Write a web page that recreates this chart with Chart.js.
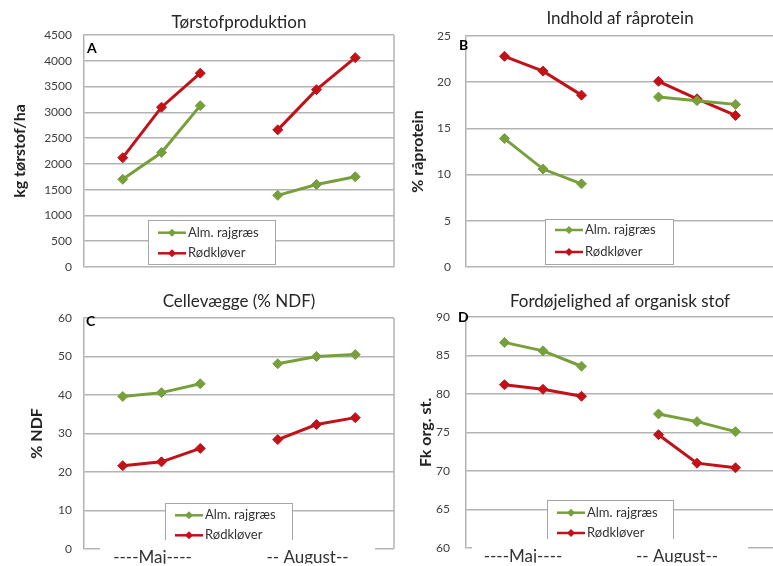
<!DOCTYPE html>
<html>
<head>
<meta charset="utf-8">
<title>Rajgræs og rødkløver</title>
<style>
  html, body { margin: 0; padding: 0; background: #fff; overflow: hidden; }
  body { width: 773px; height: 566px; position: relative; }
  canvas { position: absolute; }
</style>
</head>
<body>
  <canvas id="chartA" width="400" height="290" style="left:0;top:0"></canvas>
  <canvas id="chartB" width="380" height="290" style="left:400px;top:0"></canvas>
  <canvas id="chartC" width="400" height="278" style="left:0;top:290px"></canvas>
  <canvas id="chartD" width="380" height="281" style="left:400px;top:290px"></canvas>

<script src="https://cdn.jsdelivr.net/npm/chart.js"></script>
<script>
  // x axis: 9 slots -> empty, 3 cuts in May, empty, 3 cuts in August, empty
  var slots = ['', '', '----Maj----', '', '', '', '-- August--', '', ''];

  var tsRajgraes  = [null, 1700, 2220, 3130, null, 1390, 1600, 1750, null];
  var tsRodklover = [null, 2120, 3100, 3760, null, 2660, 3440, 4060, null];

  var rpRajgraes  = [null, 13.9, 10.6, 9.0, null, 18.4, 18.0, 17.6, null];
  var rpRodklover = [null, 22.8, 21.2, 18.6, null, 20.1, 18.2, 16.4, null];

  var ndfRajgraes  = [null, 39.6, 40.6, 42.9, null, 48.1, 50.0, 50.5, null];
  var ndfRodklover = [null, 21.6, 22.6, 26.1, null, 28.4, 32.3, 34.1, null];

  var fkRajgraes  = [null, 86.7, 85.6, 83.6, null, 77.4, 76.4, 75.1, null];
  var fkRodklover = [null, 81.2, 80.6, 79.7, null, 74.7, 71.0, 70.4, null];

  var green = 'rgb(119, 160, 60)';
  var red = 'rgb(192, 18, 24)';
  var gridColor = '#b3b3b3';
  var fontFamily = 'Lato, "Open Sans", sans-serif';

  Chart.defaults.font.family = fontFamily;

  // plot border on the right, legend box inside the plot, panel letter,
  // and the white label box that hides part of the bottom axis
  var panelDeco = {
    id: 'panelDeco',
    beforeDatasetsDraw: function (chart) {
      var a = chart.chartArea, ctx = chart.ctx;
      ctx.save();
      ctx.strokeStyle = gridColor;
      ctx.lineWidth = 1.5;
      ctx.beginPath();
      ctx.moveTo(a.right, a.top);
      ctx.lineTo(a.right, a.bottom);
      ctx.stroke();
      ctx.restore();
    },
    afterDatasetsDraw: function (chart, args, opts) {
      var a = chart.chartArea, ctx = chart.ctx;
      var L = opts.legend;
      var bx = a.left + L.x, by = a.top + L.y;
      ctx.save();
      ctx.fillStyle = '#fff';
      ctx.fillRect(bx, by, L.w, L.h);
      ctx.strokeStyle = '#a6a6a6';
      ctx.lineWidth = 1;
      ctx.strokeRect(bx + 0.5, by + 0.5, L.w, L.h);

      ctx.font = '13px ' + fontFamily;
      ctx.textBaseline = 'middle';
      chart.data.datasets.forEach(function (ds, i) {
        var y = by + L.rows[i];
        ctx.strokeStyle = ds.borderColor;
        ctx.lineWidth = 2.5;
        ctx.beginPath();
        ctx.moveTo(bx + 10, y);
        ctx.lineTo(bx + 38, y);
        ctx.stroke();
        ctx.fillStyle = ds.borderColor;
        ctx.beginPath();
        ctx.moveTo(bx + 24, y - 4);
        ctx.lineTo(bx + 28, y);
        ctx.lineTo(bx + 24, y + 4);
        ctx.lineTo(bx + 20, y);
        ctx.closePath();
        ctx.fill();
        ctx.fillStyle = '#333';
        ctx.fillText(ds.label, bx + 40, y);
      });

      if (opts.mask) {
        ctx.fillStyle = '#fff';
        ctx.fillRect(a.left + opts.mask.x, a.top + opts.mask.y, opts.mask.w, chart.height);
      }

      ctx.font = 'bold 14px ' + fontFamily;
      ctx.fillStyle = '#000';
      ctx.textBaseline = 'alphabetic';
      ctx.fillText(opts.letter.text, a.left + opts.letter.x, a.top + opts.letter.y);
      ctx.restore();
    }
  };

  function makeChart(id, cfg) {
    return new Chart(document.getElementById(id), {
      type: 'line',
      data: {
        labels: slots,
        datasets: [{
          label: 'Alm. rajgræs',
          data: cfg.green,
          borderColor: green,
          backgroundColor: green
        }, {
          label: 'Rødkløver',
          data: cfg.red,
          borderColor: red,
          backgroundColor: red
        }]
      },
      options: {
        responsive: false,
        animation: false,
        layout: { padding: cfg.padding },
        elements: {
          line: { borderWidth: 3, tension: 0 },
          point: { pointStyle: 'rectRot', radius: 5, hoverRadius: 5 }
        },
        spanGaps: false,
        scales: {
          x: {
            display: cfg.showX,
            grid: { display: false, drawTicks: false },
            border: { display: false },
            ticks: {
              autoSkip: false,
              maxRotation: 0,
              padding: -1,
              labelOffset: cfg.labelOffset,
              color: '#333',
              font: { size: 17 },
              z: 1
            },
            afterFit: function (s) { s.height = cfg.xHeight; }
          },
          y: {
            min: cfg.min,
            max: cfg.max,
            grid: { color: gridColor, lineWidth: 1.5, drawTicks: false },
            border: { color: gridColor, width: 1.5 },
            ticks: {
              stepSize: cfg.step,
              padding: cfg.tickPad,
              color: '#404040',
              font: { size: 12 },
              callback: function (v) { return String(v); }
            },
            title: {
              display: true,
              text: cfg.yTitle,
              color: '#222',
              font: { size: 16, weight: 'bold' },
              padding: { top: cfg.yTitlePad, bottom: 0 }
            },
            afterFit: function (s) { s.width = cfg.yWidth; }
          }
        },
        plugins: {
          legend: { display: false },
          tooltip: { enabled: false },
          title: {
            display: true,
            text: cfg.title,
            fullSize: false,
            color: '#262626',
            font: { size: 17, weight: 'normal' },
            padding: cfg.titlePad
          },
          panelDeco: {
            legend: cfg.legendBox,
            mask: cfg.mask,
            letter: cfg.letter
          }
        }
      },
      plugins: [panelDeco]
    });
  }

  makeChart('chartA', {
    green: tsRajgraes, red: tsRodklover,
    title: 'Tørstofproduktion', yTitle: 'kg tørstof/ha',
    min: 0, max: 4500, step: 500,
    showX: false, labelOffset: 0, xHeight: 17,
    padding: { left: 0, right: 4, top: 0, bottom: 6 },
    titlePad: { top: 12, bottom: 2.6 },
    yWidth: 84, tickPad: 12, yTitlePad: 10,
    legendBox: { x: 64, y: 185, w: 127, h: 44, rows: [12.7, 33.3] },
    mask: null,
    letter: { text: 'A', x: 3, y: 18 }
  });

  makeChart('chartB', {
    green: rpRajgraes, red: rpRodklover,
    title: 'Indhold af råprotein', yTitle: '% råprotein',
    min: 0, max: 25, step: 5,
    showX: false, labelOffset: 0, xHeight: 17,
    padding: { left: 0, right: 4, top: 0, bottom: 6 },
    titlePad: { top: 8, bottom: 7.6 },
    yWidth: 66, tickPad: 15, yTitlePad: 8,
    legendBox: { x: 79, y: 183, w: 128, h: 45, rows: [11, 33] },
    mask: null,
    letter: { text: 'B', x: -7, y: 14 }
  });

  makeChart('chartC', {
    green: ndfRajgraes, red: ndfRodklover,
    title: 'Cellevægge (% NDF)', yTitle: '% NDF',
    min: 0, max: 60, step: 10,
    showX: true, labelOffset: -9, xHeight: 15,
    padding: { left: 0, right: 4, top: 0, bottom: 0 },
    titlePad: { top: 1, bottom: 6.6 },
    yWidth: 84, tickPad: 12, yTitlePad: 27,
    legendBox: { x: 81, y: 185, w: 127, h: 44, rows: [12.3, 32.3] },
    mask: { x: 16, y: 222, w: 275 },
    letter: { text: 'C', x: 2, y: 8 }
  });

  makeChart('chartD', {
    green: fkRajgraes, red: fkRodklover,
    title: 'Fordøjelighed af organisk stof', yTitle: 'Fk org. st.',
    min: 60, max: 90, step: 5,
    showX: true, labelOffset: -20, xHeight: 15,
    padding: { left: 0, right: 4, top: 0, bottom: 0 },
    titlePad: { top: 1, bottom: 5.6 },
    yWidth: 66, tickPad: 16, yTitlePad: 16,
    legendBox: { x: 81, y: 183, w: 126, h: 44, rows: [12.7, 33] },
    mask: { x: 6, y: 222, w: 276 },
    letter: { text: 'D', x: -8, y: 5 }
  });
</script>
</body>
</html>
